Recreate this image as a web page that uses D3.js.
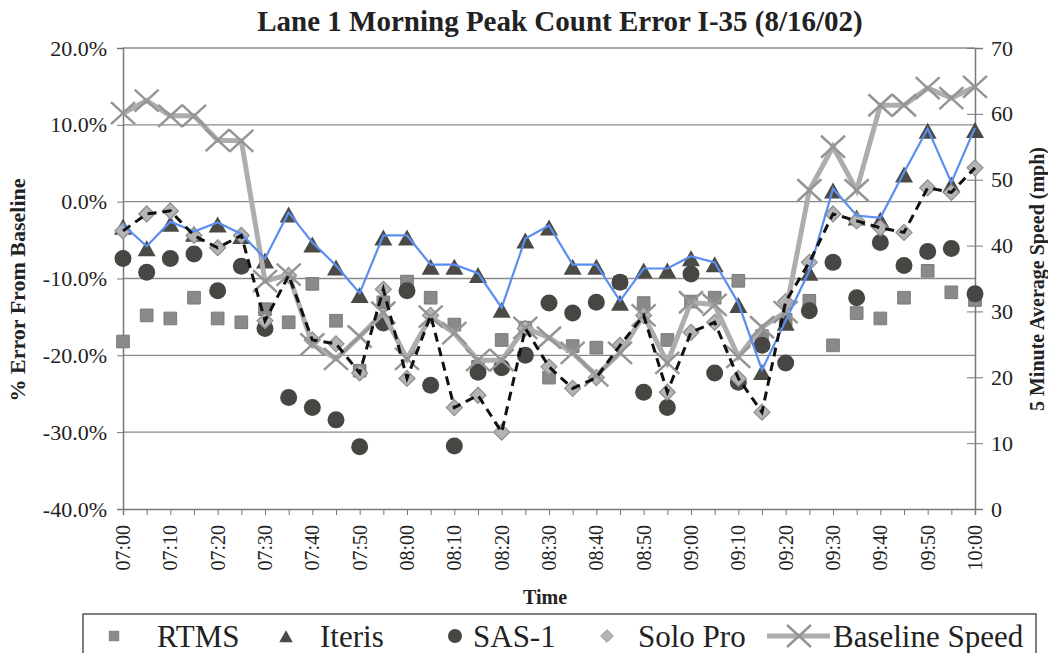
<!DOCTYPE html>
<html><head><meta charset="utf-8">
<script src="https://cdn.jsdelivr.net/npm/d3@7"></script>
<style>body{margin:0;background:#fff}svg{display:block}text{font-family:"Liberation Serif","Times New Roman",serif;fill:#222}</style>
</head><body><svg id="c" width="1048" height="653"></svg>
<script>
const times = ["07:00","07:05","07:10","07:15","07:20","07:25","07:30","07:35","07:40","07:45","07:50","07:55",
  "08:00","08:05","08:10","08:15","08:20","08:25","08:30","08:35","08:40","08:45","08:50","08:55",
  "09:00","09:05","09:10","09:15","09:20","09:25","09:30","09:35","09:40","09:45","09:50","09:55","10:00"];
const timeTickLabels = ["07:00","07:10","07:20","07:30","07:40","07:50","08:00","08:10","08:20","08:30","08:40","08:50",
  "09:00","09:10","09:20","09:30","09:40","09:50","10:00"];
const rtms = [-18.2,-14.8,-15.2,-12.5,-15.2,-15.7,-14.0,-15.7,-10.7,-15.5,-22.0,-13.1,
  -10.4,-12.5,-16.0,-21.5,-18.0,-16.4,-22.9,-18.8,-19.0,-10.5,-13.2,-18.0,
  -13.0,-12.5,-10.3,-17.5,-15.4,-12.9,-18.7,-14.5,-15.2,-12.5,-9.0,-11.8,-12.8];
const iteris = [-3.0,-5.8,-2.6,-3.9,-2.7,-4.2,-7.4,-1.4,-5.3,-8.3,-11.9,-4.4,
  -4.4,-8.2,-8.2,-9.3,-13.8,-4.8,-3.1,-8.2,-8.2,-12.9,-8.7,-8.7,
  -7.1,-7.9,-13.2,-21.9,-15.5,-9.0,1.7,-1.8,-2.1,3.8,9.5,2.5,9.6];
const sas1 = [-7.4,-9.2,-7.4,-6.8,-11.6,-8.4,-16.5,-25.5,-26.8,-28.4,-31.9,-15.8,
  -11.6,-23.9,-31.8,-22.2,-21.6,-20.0,-13.2,-14.5,-13.1,-10.5,-24.8,-26.8,
  -9.4,-22.3,-23.5,-18.7,-21.0,-14.2,-7.9,-12.5,-5.3,-8.3,-6.5,-6.1,-12.0];
const soloPro = [-3.8,-1.6,-1.2,-4.4,-6.0,-4.4,-15.5,-9.6,-18.0,-18.5,-22.3,-11.4,
  -23.0,-14.8,-26.8,-25.2,-30.0,-16.5,-21.5,-24.3,-22.9,-18.7,-14.8,-24.8,
  -17.0,-15.7,-23.0,-27.4,-13.0,-7.9,-1.6,-2.5,-3.4,-4.0,1.8,1.2,4.4];
const baselineSpeed = [60.1,62.0,59.7,59.7,56.0,55.9,34.6,35.6,25.0,22.8,26.2,29.8,
  22.8,29.2,26.7,22.6,22.6,27.5,26.0,23.7,20.3,23.7,29.4,22.2,
  31.4,31.0,23.1,27.6,29.9,48.4,55.0,48.4,61.3,61.3,63.9,62.4,64.1];
const leftTicks = [-40,-30,-20,-10,0,10,20];
const rightTicks = [0,10,20,30,40,50,60,70];

const svg = d3.select("#c");
const L = 123, R = 975, T = 48, B = 509;
const x = d3.scalePoint().domain(times).range([L, R]);
const yL = d3.scaleLinear().domain([-40, 20]).range([B, T]);
const yR = d3.scaleLinear().domain([0, 70]).range([B, T]);

svg.append("text").attr("x", 560).attr("y", 31).attr("text-anchor", "middle")
  .style("font-size", "29px").style("font-weight", "bold").text("Lane 1 Morning Peak Count Error I-35 (8/16/02)");

svg.append("g").selectAll("line").data(leftTicks.filter(d => d > -40)).join("line")
  .attr("x1", L).attr("x2", R).attr("y1", d => yL(d)).attr("y2", d => yL(d))
  .attr("stroke", "#8a8a8a").attr("stroke-width", 1.3);

const gL = svg.append("g").attr("transform", `translate(${L},0)`)
  .call(d3.axisLeft(yL).tickValues(leftTicks).tickSize(6).tickPadding(10).tickFormat(d => d.toFixed(1) + "%"));
gL.select(".domain").attr("stroke", "#777").attr("stroke-width", 1.5);
gL.selectAll(".tick line").attr("stroke", "#777");
gL.selectAll("text").style("font-size", "22px").attr("fill", "#222").attr("dy", "0.32em");

const gR = svg.append("g").attr("transform", `translate(${R},0)`)
  .call(d3.axisRight(yR).tickValues(rightTicks).tickSize(8).tickPadding(8));
gR.select(".domain").attr("stroke", "#777").attr("stroke-width", 1.5);
gR.selectAll(".tick line").attr("x1", -8).attr("stroke", "#777");
gR.selectAll("text").style("font-size", "22px").attr("fill", "#222").attr("dy", "0.32em");

const gB = svg.append("g").attr("transform", `translate(0,${B})`)
  .call(d3.axisBottom(x).tickSize(6).tickFormat(""));
gB.select(".domain").attr("stroke", "#777").attr("stroke-width", 1.5);
gB.selectAll(".tick line").attr("stroke", "#777");
svg.append("g").selectAll("text").data(timeTickLabels).join("text")
  .attr("transform", d => `translate(${x(d) + 7},525) rotate(-90)`)
  .attr("text-anchor", "end").style("font-size", "20px").text(d => d);

svg.append("text").attr("transform", "translate(25,290) rotate(-90)").attr("text-anchor", "middle")
  .style("font-size", "22px").style("font-weight", "bold").text("% Error From Baseline");
svg.append("text").attr("transform", "translate(1044,279) rotate(-90)").attr("text-anchor", "middle")
  .style("font-size", "20px").style("font-weight", "bold").text("5 Minute Average Speed (mph)");
svg.append("text").attr("x", 545).attr("y", 604).attr("text-anchor", "middle")
  .style("font-size", "20px").style("font-weight", "bold").text("Time");

const idx = times.map((t, i) => i);
const sym = {
  square: d3.symbol().type(d3.symbolSquare).size(160)(),
  tri: "M0,-9L9,7L-9,7Z",
  diamond: "M0,-8L8,0L0,8L-8,0Z",
  cross: "M-12,-11L12,11M-12,11L12,-11"
};

svg.append("g").selectAll("path").data(idx).join("path")
  .attr("transform", i => `translate(${x(times[i])},${yL(rtms[i])})`)
  .attr("d", sym.square).attr("fill", "#8a8a8a").attr("stroke", "#7a7a7a").attr("stroke-width", 1);
svg.append("g").selectAll("path").data(idx).join("path")
  .attr("transform", i => `translate(${x(times[i])},${yL(iteris[i]) + 3})`)
  .attr("d", sym.tri).attr("fill", "#4c4a45");
svg.append("g").selectAll("circle").data(idx).join("circle")
  .attr("cx", i => x(times[i])).attr("cy", i => yL(sas1[i])).attr("r", 8.5)
  .attr("fill", "#484643");
svg.append("g").selectAll("path").data(idx).join("path")
  .attr("transform", i => `translate(${x(times[i])},${yL(soloPro[i])})`)
  .attr("d", sym.diamond).attr("fill", "#b4b4b4").attr("stroke", "#8e8e8e").attr("stroke-width", 1.2);

svg.append("path").datum(idx)
  .attr("d", d3.line().x(i => x(times[i])).y(i => yR(baselineSpeed[i])))
  .attr("fill", "none").attr("stroke", "#adadad").attr("stroke-width", 5);
svg.append("g").selectAll("path").data(idx).join("path")
  .attr("transform", i => `translate(${x(times[i])},${yR(baselineSpeed[i])})`)
  .attr("d", sym.cross).attr("fill", "none").attr("stroke", "#959595").attr("stroke-width", 2.5);

svg.append("path").datum(idx)
  .attr("d", d3.line().x(i => x(times[i])).y(i => yL(iteris[i])))
  .attr("fill", "none").attr("stroke", "#5a8ef0").attr("stroke-width", 2.2);
svg.append("path").datum(idx)
  .attr("d", d3.line().x(i => x(times[i])).y(i => yL(soloPro[i])))
  .attr("fill", "none").attr("stroke", "#111").attr("stroke-width", 3).attr("stroke-dasharray", "9,6");

const lg = svg.append("g");
lg.append("rect").attr("x", 83).attr("y", 614).attr("width", 953).attr("height", 60)
  .attr("fill", "#fff").attr("stroke", "#555").attr("stroke-width", 1.5);
const ly = 636;
lg.append("path").attr("transform", `translate(114,${ly})`).attr("d", d3.symbol().type(d3.symbolSquare).size(110)())
  .attr("fill", "#8a8a8a");
lg.append("path").attr("transform", `translate(286,${ly + 1}) scale(0.75)`).attr("d", sym.tri).attr("fill", "#4c4a45");
lg.append("circle").attr("cx", 455).attr("cy", ly).attr("r", 7).attr("fill", "#484643");
lg.append("path").attr("transform", `translate(607,${ly}) scale(0.8)`).attr("d", sym.diamond)
  .attr("fill", "#b4b4b4").attr("stroke", "#8e8e8e");
lg.append("line").attr("x1", 767).attr("x2", 830).attr("y1", ly).attr("y2", ly)
  .attr("stroke", "#adadad").attr("stroke-width", 5);
lg.append("path").attr("transform", `translate(799,${ly})`).attr("d", sym.cross)
  .attr("fill", "none").attr("stroke", "#959595").attr("stroke-width", 2.5);
const legendItems = [["RTMS", 157], ["Iteris", 320], ["SAS-1", 473], ["Solo Pro", 638], ["Baseline Speed", 833]];
lg.selectAll("text.li").data(legendItems).join("text").attr("class", "li")
  .attr("x", d => d[1]).attr("y", 647).style("font-size", "31px").text(d => d[0]);
</script></body></html>
